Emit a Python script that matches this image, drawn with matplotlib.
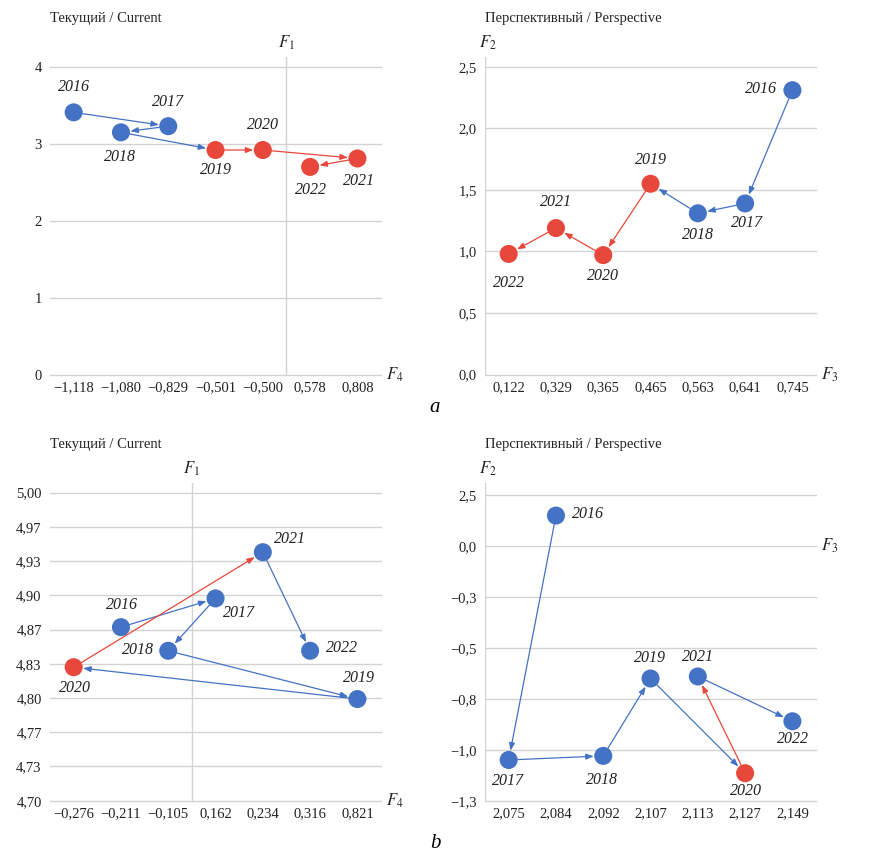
import numpy as np
import matplotlib
matplotlib.use("Agg")
from matplotlib import pyplot as plt

plt.rcParams['font.family'] = ['Liberation Serif', 'DejaVu Serif']
plt.rcParams['mathtext.fontset'] = 'stix'

BLUE = '#4472C4'
RED = '#E8473B'
GRID = '#D3D3D3'

years = [2016, 2017, 2018, 2019, 2020, 2021, 2022]

# a, current: F4 (x) / F1 (y)
a_cur_x = [-1.118, -0.829, -1.080, -0.501, -0.500, 0.808, 0.578]
a_cur_y = [3.41, 3.23, 3.15, 2.92, 2.92, 2.81, 2.70]
a_cur_yticks = [0, 1, 2, 3, 4]
a_cur_ylabels = ['0', '1', '2', '3', '4']

# a, perspective: F3 (x) / F2 (y)
a_per_x = [0.745, 0.641, 0.563, 0.465, 0.365, 0.329, 0.122]
a_per_y = [2.31, 1.39, 1.31, 1.55, 0.97, 1.19, 0.98]
a_per_yticks = [0.0, 0.5, 1.0, 1.5, 2.0, 2.5]
a_per_ylabels = ['0,0', '0,5', '1,0', '1,5', '2,0', '2,5']

# b, current: F4 (x) / F1 (y)
b_cur_x = [-0.211, 0.162, -0.105, 0.821, -0.276, 0.234, 0.316]
b_cur_y = [4.869, 4.897, 4.846, 4.799, 4.830, 4.942, 4.846]
b_cur_yticks = [4.70 + k / 30 for k in range(10)]
b_cur_ylabels = ['4,70', '4,73', '4,77', '4,80', '4,83', '4,87', '4,90', '4,93', '4,97', '5,00']

# b, perspective: F3 (x) / F2 (y)
b_per_x = [2.084, 2.075, 2.092, 2.107, 2.127, 2.113, 2.149]
b_per_y = [0.10, -1.10, -1.08, -0.70, -1.165, -0.69, -0.91]
b_per_yticks = [-1.3 + 0.25 * k for k in range(7)]
b_per_ylabels = ['\u22121,3', '\u22121,0', '\u22120,8', '\u22120,5', '\u22120,3', '0,0', '2,5']

# red years per row
a_red = [2019, 2020, 2021, 2022]
b_red = [2020]

# label offsets in px (dx, dy), y up
a_cur_off = [(0, 25), (0, 24), (-1, -25), (0, -20), (0, 25), (2, -23), (1, -23)]
a_per_off = [(-31, 1), (2, -20), (0, -22), (0, 24), (0, -21), (0, 26), (0, -29)]
b_cur_off = [(1, 22), (23, -15), (-30, 1), (2, 21), (1, -21), (27, 13), (32, 3)]
b_per_off = [(32, 2), (-1, -21), (-1, -24), (-1, 21), (1, -18), (0, 19), (1, -18)]


def fmt(v):
    return '{:.3f}'.format(v).replace('.', ',').replace('-', '\u2212')


def draw(ax, xv, yv, red, ylim, yticks, ylabels, offsets, title, xname, yname, left_line):
    order = sorted(xv)
    xpos = [order.index(v) for v in xv]
    colors = [RED if yr in red else BLUE for yr in years]

    for s in ax.spines.values():
        s.set_visible(False)
    ax.set_xlim(-0.5, 6.5)
    ax.set_ylim(*ylim)
    for t in yticks:
        ax.axhline(t, color=GRID, lw=1.0, zorder=0, clip_on=False)
    # vertical axis crosses where x changes sign
    cross = sum(1 for v in xv if v < 0) - 0.5
    if cross > -0.5 or left_line:
        ax.axvline(cross, color=GRID, lw=1.0, zorder=0)

    ax.set_xticks(range(7))
    ax.set_xticklabels([fmt(v) for v in order])
    ax.set_yticks(yticks)
    ax.set_yticklabels(ylabels)
    ax.tick_params(length=0, labelsize=10.5, colors='#222222')
    ax.tick_params(axis='x', pad=5)
    ax.tick_params(axis='y', pad=6)

    for i in range(len(years) - 1):
        ax.annotate('', xy=(xpos[i + 1], yv[i + 1]), xytext=(xpos[i], yv[i]),
                    arrowprops=dict(arrowstyle='-|>,head_length=0.45,head_width=0.17',
                                    color=colors[i], lw=0.9, shrinkA=6.5, shrinkB=6.8),
                    zorder=2)
    ax.scatter(xpos, yv, s=169, c=colors, zorder=3, linewidths=0)

    for i, yr in enumerate(years):
        dx, dy = offsets[i]
        ax.annotate(str(yr), (xpos[i], yv[i]), xytext=(dx * 0.72, dy * 0.72),
                    textcoords='offset points', ha='center', va='center',
                    fontsize=11.5, style='italic', color='#222222')

    ax.text(0, 1.0, title, transform=ax.transAxes, fontsize=10.5,
            ha='left', va='center', color='#222222')
    return cross


fig = plt.figure(figsize=(8.7, 8.57), dpi=100)
ax1 = fig.add_axes([0.0575, 0.563, 0.3805, 0.3705])
ax2 = fig.add_axes([0.5575, 0.563, 0.3805, 0.3705])
ax3 = fig.add_axes([0.0575, 0.0657, 0.3805, 0.3707])
ax4 = fig.add_axes([0.5575, 0.0657, 0.3805, 0.3707])

panels = [
    (ax1, a_cur_x, a_cur_y, a_red, (0, 4.13), a_cur_yticks, a_cur_ylabels, a_cur_off,
     'Текущий / Current', r'$F_4$', r'$F_1$', False),
    (ax2, a_per_x, a_per_y, a_red, (0, 2.58), a_per_yticks, a_per_ylabels, a_per_off,
     'Перспективный / Perspective', r'$F_3$', r'$F_2$', True),
    (ax3, b_cur_x, b_cur_y, b_red, (4.70, 5.0094), b_cur_yticks, b_cur_ylabels, b_cur_off,
     'Текущий / Current', r'$F_4$', r'$F_1$', False),
    (ax4, b_per_x, b_per_y, b_red, (-1.3, 0.26), b_per_yticks, b_per_ylabels, b_per_off,
     'Перспективный / Perspective', r'$F_3$', r'$F_2$', True),
]

for ax, xv, yv, red, ylim, yt, yl, off, title, xname, yname, left in panels:
    cross = draw(ax, xv, yv, red, ylim, yt, yl, off, title, xname, yname, left)
    # title sits above the axes
    ax.texts[-1].set_position((0, 1.0 + 39 / 318))
    # axis names
    xloc = cross if cross > -0.5 else -0.5
    ax.annotate(yname, (xloc, 1.0), xycoords=('data', 'axes fraction'),
                xytext=(2 if cross <= -0.5 else 0, 10), textcoords='offset points',
                ha='center', va='center', fontsize=12, color='#222222')
    yaxis_at = 0 if min(yv) > 0 or ax is ax3 else -0.05
    if ax is ax3:
        yaxis_at = 4.70
    ax.annotate(xname, (1.0, yaxis_at), xycoords=('axes fraction', 'data'),
                xytext=(10, 0), textcoords='offset points',
                ha='center', va='center', fontsize=12, color='#222222')

fig.text(0.5, 1 - 407 / 857, 'a', fontsize=15, style='italic', ha='center', va='center')
fig.text(0.5, 1 - 843 / 857, 'b', fontsize=15, style='italic', ha='center', va='center')

fig.savefig('out.png', dpi=100)
